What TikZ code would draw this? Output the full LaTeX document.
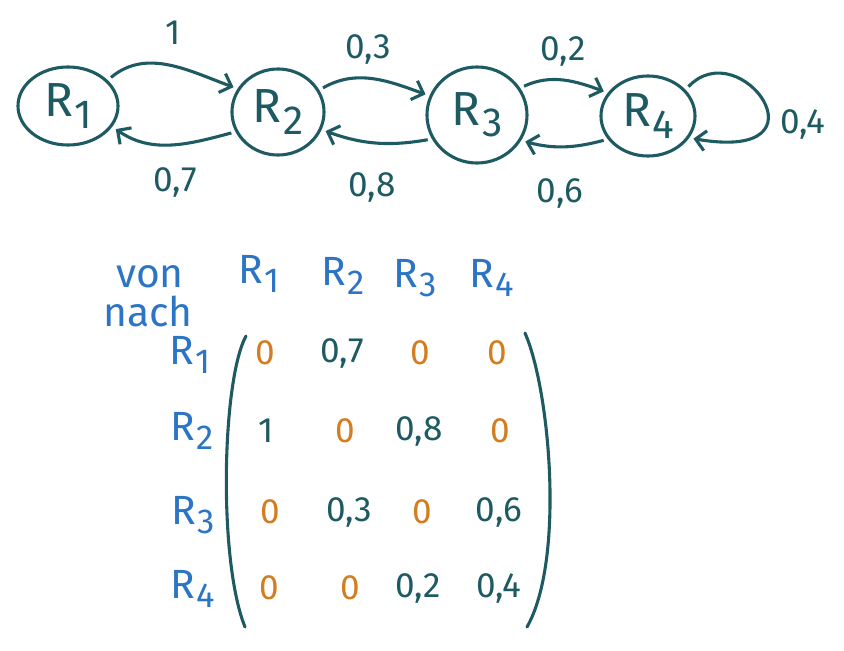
\documentclass[tikz,border=0pt]{standalone}
\usepackage{fontspec}
\setmainfont{Fira Sans}
\usetikzlibrary{positioning,shapes.geometric,arrows.meta}
\definecolor{tealink}{HTML}{1E5A62}
\definecolor{blueink}{HTML}{2C74C4}
\definecolor{orangeink}{HTML}{D27D1F}
\newcommand{\Rn}[1]{R\kern0.03em\raisebox{-0.45ex}{\scalebox{0.85}{#1}}}

\begin{document}
\begin{tikzpicture}[x=0.025cm,y=-0.025cm,
    state/.style={ellipse,draw=tealink,line width=2.2pt,inner sep=0pt,text=tealink,font=\fontsize{34}{36}\selectfont},
    trans/.style={draw=tealink,line width=2.2pt,-{Straight Barb[length=2.5mm,width=5mm]},shorten <=3pt,shorten >=3pt},
    lab/.style={text=tealink,font=\fontsize{25}{27}\selectfont},
    head/.style={text=blueink,font=\fontsize{29}{31}\selectfont},
    entry/.style={text=tealink,font=\fontsize{25}{27}\selectfont},
    zero/.style={text=orangeink,font=\fontsize{25}{27}\selectfont}]
    \useasboundingbox (0,0) rectangle (844,651);
    % states
    \node[state,minimum width=2.5cm,minimum height=1.95cm] (R1) at (68,106) {\Rn{1}};
    \node[state,minimum width=2.3cm,minimum height=2.15cm] (R2) at (278,112) {\Rn{2}};
    \node[state,minimum width=2.5cm,minimum height=2.4cm] (R3) at (477,115) {\Rn{3}};
    \node[state,minimum width=2.35cm,minimum height=2cm] (R4) at (648,116) {\Rn{4}};
    % transitions
    \draw[trans] (R1.33) to[out=40,in=160] (R2.150);
    \draw[trans] (R2.205) to[out=195,in=-35] (R1.-25);
    \draw[trans] (R2.28) to[out=30,in=160] (R3.158);
    \draw[trans] (R3.208) to[out=190,in=-20] (R2.-22);
    \draw[trans] (R3.32) to[out=25,in=160] (R4.150);
    \draw[trans] (R4.210) to[out=195,in=-15] (R3.-30);
    \draw[trans] (R4.35) .. controls +(55,-58) and +(145,25) .. (R4.-28);
    \node[lab] (l12) at (173,33) {1};
    \node[lab] (l21) at (175,182) {0,7};
    \node[lab] (l23) at (368,49) {0,3};
    \node[lab] (l32) at (372,187) {0,8};
    \node[lab] (l34) at (563,51) {0,2};
    \node[lab] (l43) at (560,193) {0,6};
    \node[lab] (l44) at (803,124) {0,4};
    % matrix headers
    \node[head] (von) at (150,277) {von};
    \node[head] (nach) at (148,311) {nach};
    \node[head] (c1) at (259,274) {\Rn{1}};
    \node[head] (c2) at (343,276) {\Rn{2}};
    \node[head] (c3) at (415,278) {\Rn{3}};
    \node[head] (c4) at (492,278) {\Rn{4}};
    \node[head] (r1) at (190,355) {\Rn{1}};
    \node[head] (r2) at (192,431) {\Rn{2}};
    \node[head] (r3) at (193,515) {\Rn{3}};
    \node[head] (r4) at (193,589) {\Rn{4}};
    % matrix entries
    \node[zero] (m11) at (265,353) {0};
    \node[entry] (m12) at (342,353) {0,7};
    \node[zero] (m13) at (420,353) {0};
    \node[zero] (m14) at (497,353) {0};
    \node[entry] (m21) at (266,431) {1};
    \node[zero] (m22) at (345,431) {0};
    \node[entry] (m23) at (419,431) {0,8};
    \node[zero] (m24) at (500,431) {0};
    \node[zero] (m31) at (270,512) {0};
    \node[entry] (m32) at (349,512) {0,3};
    \node[zero] (m33) at (422,512) {0};
    \node[entry] (m34) at (499,512) {0,6};
    \node[zero] (m41) at (269,588) {0};
    \node[zero] (m42) at (350,588) {0};
    \node[entry] (m43) at (418,588) {0,2};
    \node[entry] (m44) at (499,588) {0,4};
    % brackets
    \draw[tealink,line width=2.2pt,line cap=round] (246,336) .. controls (222,380) and (218,560) .. (245,627);
    \draw[tealink,line width=2.2pt,line cap=round] (525,333) .. controls (550,390) and (565,560) .. (527,627);
\end{tikzpicture}
\end{document}
